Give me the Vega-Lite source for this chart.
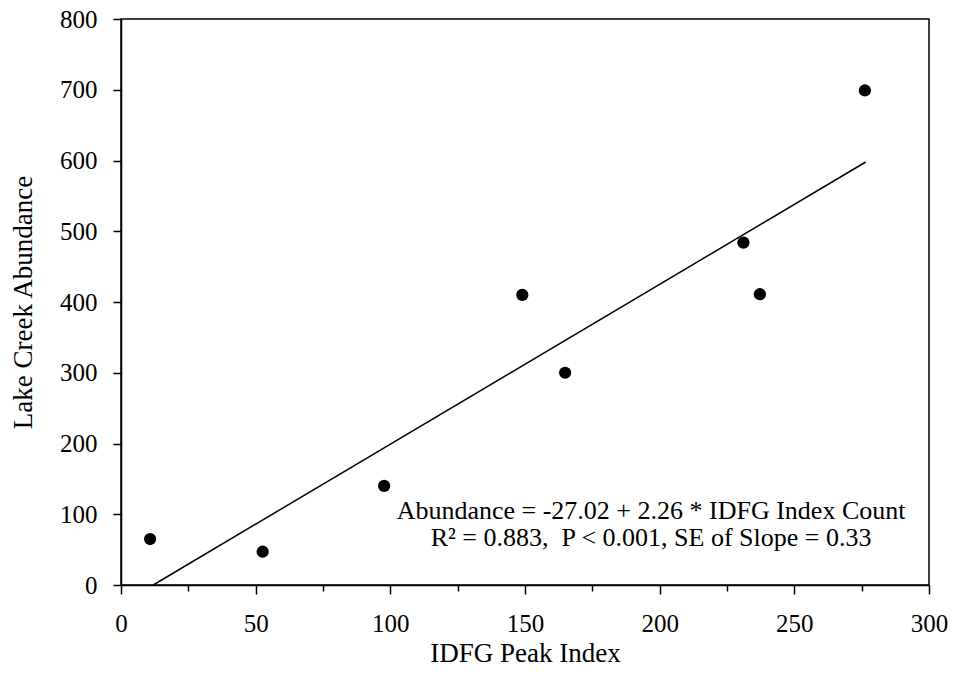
{
  "$schema": "https://vega.github.io/schema/vega-lite/v6.json",
  "width": 808,
  "height": 566,
  "autosize": {"type": "none"},
  "padding": {"left": 121, "top": 19, "right": 25, "bottom": 94},
  "background": "white",
  "config": {
    "font": "Liberation Serif",
    "view": {"stroke": "black", "strokeWidth": 1.5},
    "axis": {
      "domainColor": "black",
      "domainWidth": 1.5,
      "tickColor": "black",
      "tickWidth": 1.5,
      "labelFont": "Liberation Serif",
      "labelFontSize": 25,
      "labelColor": "black",
      "titleFont": "Liberation Serif",
      "titleFontSize": 27,
      "titleFontWeight": "normal",
      "titleColor": "black",
      "grid": false
    }
  },
  "datasets": {
    "points": [
      {"idfg": 10.8, "abundance": 65},
      {"idfg": 52.6, "abundance": 47},
      {"idfg": 97.7, "abundance": 140},
      {"idfg": 149.0, "abundance": 410},
      {"idfg": 164.9, "abundance": 300},
      {"idfg": 231.1, "abundance": 484},
      {"idfg": 237.2, "abundance": 411},
      {"idfg": 276.2, "abundance": 699}
    ],
    "fit": [
      {"idfg": 11.96, "abundance": 0},
      {"idfg": 276.5, "abundance": 597.9}
    ],
    "notes": [
      {"idfg": 196.8, "abundance": 104.6, "label": "Abundance = -27.02 + 2.26 * IDFG Index Count"},
      {"idfg": 196.8, "abundance": 66.4, "label": "R² = 0.883,\u00a0 P < 0.001, SE of Slope = 0.33"}
    ]
  },
  "layer": [
    {
      "data": {"name": "fit"},
      "mark": {"type": "line", "color": "black", "strokeWidth": 1.5},
      "encoding": {
        "x": {
          "field": "idfg", "type": "quantitative",
          "scale": {"domain": [0, 300], "nice": false, "zero": false},
          "axis": {
            "title": "IDFG Peak Index",
            "values": [0, 25, 50, 75, 100, 125, 150, 175, 200, 225, 250, 275, 300],
            "labelExpr": "datum.value % 50 === 0 ? datum.label : ''",
            "tickSize": {"condition": {"test": "datum.value % 50 === 0", "value": 9}, "value": 6},
            "labelPadding": 17,
            "titlePadding": 4,
            "labelFlush": false
          }
        },
        "y": {
          "field": "abundance", "type": "quantitative",
          "scale": {"domain": [0, 800], "nice": false, "zero": false},
          "axis": {
            "title": "Lake Creek Abundance",
            "values": [0, 50, 100, 150, 200, 250, 300, 350, 400, 450, 500, 550, 600, 650, 700, 750, 800],
            "labelExpr": "datum.value % 100 === 0 ? datum.label : ''",
            "tickSize": {"condition": {"test": "datum.value % 100 === 0", "value": 8}, "value": 4},
            "labelPadding": 16,
            "titlePadding": 22,
            "labelFlush": false
          }
        }
      }
    },
    {
      "data": {"name": "points"},
      "mark": {"type": "circle", "color": "black", "opacity": 1, "size": 150},
      "encoding": {
        "x": {"field": "idfg", "type": "quantitative"},
        "y": {"field": "abundance", "type": "quantitative"}
      }
    },
    {
      "data": {"name": "notes"},
      "mark": {"type": "text", "font": "Liberation Serif", "fontSize": 26, "color": "black", "align": "center", "baseline": "middle"},
      "encoding": {
        "x": {"field": "idfg", "type": "quantitative"},
        "y": {"field": "abundance", "type": "quantitative"},
        "text": {"field": "label"}
      }
    }
  ]
}
